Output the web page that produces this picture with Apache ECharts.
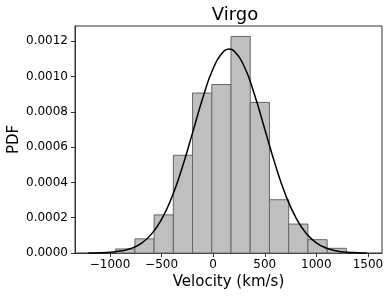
<!DOCTYPE html>
<html>
<head>
<meta charset="utf-8">
<script src="https://cdn.jsdelivr.net/npm/echarts@6/dist/echarts.min.js"></script>
<style>
html,body{margin:0;padding:0;background:#fff;}
#chart{width:391px;height:297px;}
</style>
</head>
<body>
<div id="chart"></div>
<script>
// Histogram bin edges (km/s)
var binEdges = [-945, -758.7, -572.4, -386.1, -199.8, -13.5, 172.8, 359.1, 545.4, 731.7, 918, 1104.3, 1290.6];
// Histogram densities (PDF)
var binHeights = [0.000023, 0.000080, 0.000216, 0.000554, 0.000907, 0.000955, 0.001228, 0.000854, 0.000302, 0.000164, 0.0000756, 0.0000265];
// Fitted curve
var curveX = [-1210, -1100, -1000, -900, -800, -700, -600, -500, -400, -300, -200, -100, 0, 100, 155, 200, 300, 400, 500, 600, 700, 800, 900, 1000, 1100, 1200, 1300, 1400, 1490];
var curveY = [0.0000005, 0.0000016, 0.0000043, 0.0000108, 0.0000251, 0.0000537, 0.0001056, 0.0001909, 0.000317, 0.000485, 0.000681, 0.000880, 0.001046, 0.001142, 0.001157, 0.001147, 0.001059, 0.000899, 0.000702, 0.000504, 0.000332, 0.000202, 0.000112, 0.0000577, 0.0000272, 0.0000118, 0.0000047, 0.0000017, 0.0000006];
// Tick labels
var xTicks = [-1000, -500, 0, 500, 1000, 1500];
var yTicks = [0, 0.0002, 0.0004, 0.0006, 0.0008, 0.0010, 0.0012];

var histData = binHeights.map(function (h, i) { return [binEdges[i], binEdges[i + 1], h]; });
var curveData = curveX.map(function (x, i) { return [x, curveY[i]]; });

var FONT = 'DejaVu Sans';
var chart = echarts.init(document.getElementById('chart'), null, { renderer: 'canvas' });
chart.setOption({
  animation: false,
  backgroundColor: '#fff',
  title: {
    text: 'Virgo', left: 230, top: 1, textAlign: 'center',
    textStyle: { fontFamily: FONT, fontSize: 18, fontWeight: 'normal', color: '#000' }
  },
  grid: { left: 75, right: 9, top: 26, bottom: 44, containLabel: false, outerBoundsMode: 'none', show: true, borderColor: '#333', borderWidth: 1, backgroundColor: 'transparent' },
  xAxis: {
    type: 'value', min: -1339, max: 1636,
    name: 'Velocity (km/s)', nameLocation: 'middle', nameGap: 22, nameMoveOverlap: false,
    nameTextStyle: { fontFamily: FONT, fontSize: 15, color: '#000' },
    axisLine: { show: true, onZero: false, lineStyle: { color: '#333', width: 1 } },
    axisTick: { show: true, length: 4, customValues: xTicks, lineStyle: { color: '#333' } },
    axisLabel: {
      customValues: xTicks, margin: 6, fontFamily: FONT, fontSize: 12, color: '#000',
      formatter: function (v) { return v < 0 ? '\u2212' + Math.abs(v) : String(v); }
    },
    splitLine: { show: false }
  },
  yAxis: {
    type: 'value', min: 0, max: 0.001287,
    name: 'PDF', nameLocation: 'middle', nameGap: 53, nameMoveOverlap: false,
    nameTextStyle: { fontFamily: FONT, fontSize: 15, color: '#000' },
    axisLine: { show: true, onZero: false, lineStyle: { color: '#333', width: 1 } },
    axisTick: { show: true, length: 4, customValues: yTicks, lineStyle: { color: '#333' } },
    axisLabel: {
      customValues: yTicks, margin: 7, fontFamily: FONT, fontSize: 12, color: '#000',
      formatter: function (v) { return v.toFixed(4); }
    },
    splitLine: { show: false }
  },
  series: [
    {
      type: 'custom',
      data: histData,
      encode: { x: [0, 1], y: 2 },
      renderItem: function (params, api) {
        var p0 = api.coord([api.value(0), 0]);
        var p1 = api.coord([api.value(1), api.value(2)]);
        return {
          type: 'rect',
          shape: { x: p0[0], y: p1[1], width: p1[0] - p0[0], height: p0[1] - p1[1] },
          style: { fill: '#bfbfbf', stroke: '#666', lineWidth: 1 }
        };
      },
      z: 2
    },
    {
      type: 'line',
      data: curveData,
      smooth: true,
      showSymbol: false,
      lineStyle: { color: '#000', width: 1.5 },
      z: 3
    }
  ]
});
</script>
</body>
</html>
